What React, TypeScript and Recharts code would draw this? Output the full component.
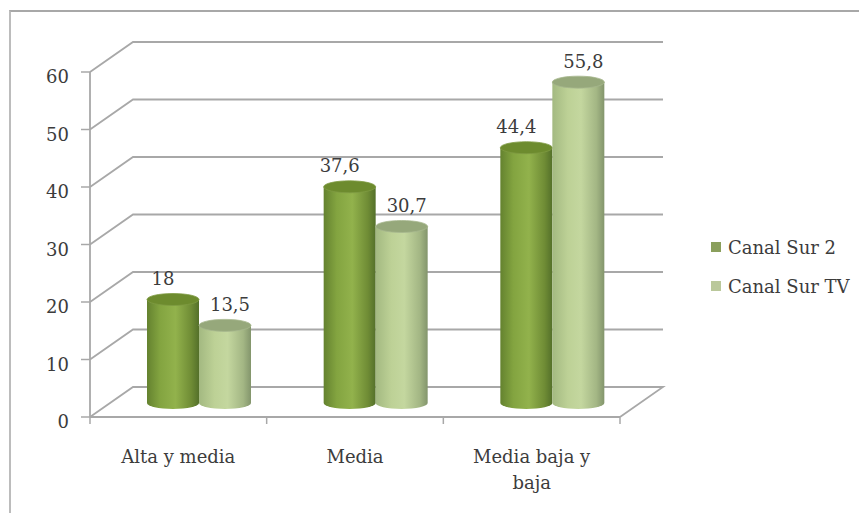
import React from "react";
import { Bar, BarChart, CartesianGrid, LabelList, Legend, Text, XAxis, YAxis } from "recharts";

const categories = ["Alta y media", "Media", "Media baja y baja"];
const canalSur2 = [18, 37.6, 44.4];
const canalSurTV = [13.5, 30.7, 55.8];
const yTicks = [0, 10, 20, 30, 40, 50, 60];

const rows = categories.map((name, i) => ({
  name,
  canalSur2: canalSur2[i],
  canalSurTV: canalSurTV[i],
}));

const FONT = '"DejaVu Serif", serif';
const FONT_SIZE = 18;
const TEXT = "#3c3c3c";
const GRID = "#a8a8a8";
// Depth of the receding wall and of the cylinders standing on the floor.
const WALL_DX = 43;
const WALL_DY = 30;
const BAR_DX = 21;
const BAR_DY = 14;
const CAP_RY = 6;
const BAND = 176.67;
const AXIS_Y = 417;

function WallLine(props: any) {
  const { x1, y1, x2 } = props;
  const isFloor = Math.abs(y1 - AXIS_Y) < 1;
  const d = `M${x1} ${y1}L${x1 + WALL_DX} ${y1 - WALL_DY}L${x2 + WALL_DX} ${y1 - WALL_DY}` +
    (isFloor ? `L${x2} ${y1}` : "");
  return <path key={y1} d={d} fill="none" stroke={GRID} strokeWidth={1.8} />;
}

function cylinder(gradient: string, capFill: string, capEdge: string) {
  return (props: any) => {
    const { x, y, width, height } = props;
    const left = x + BAR_DX;
    const right = left + width;
    const top = y - BAR_DY;
    const bottom = top + height;
    const rx = width / 2;
    const d = `M${left} ${top}L${left} ${bottom}A${rx} ${CAP_RY} 0 0 0 ${right} ${bottom}L${right} ${top}Z`;
    return (
      <g>
        <path d={d} fill={`url(#${gradient})`} />
        <ellipse cx={left + rx} cy={top} rx={rx} ry={CAP_RY} fill={capFill} stroke={capEdge} strokeWidth={0.8} />
      </g>
    );
  };
}

function valueLabel(shift: number) {
  return (props: any) => {
    const { x, y, width, value } = props;
    return (
      <text
        x={x + width / 2 + BAR_DX + shift}
        y={y - BAR_DY - 21}
        textAnchor="middle"
        dominantBaseline="central"
        fontFamily={FONT}
        fontSize={FONT_SIZE}
        fill={TEXT}
      >
        {String(value).replace(".", ",")}
      </text>
    );
  };
}

function CategoryTick(props: any) {
  const { x, index, payload } = props;
  const lineProps = { y1: AXIS_Y, y2: AXIS_Y + 7, stroke: GRID, strokeWidth: 1.5 };
  return (
    <g>
      <line x1={x - BAND / 2} x2={x - BAND / 2} {...lineProps} />
      {index === categories.length - 1 && <line x1={x + BAND / 2} x2={x + BAND / 2} {...lineProps} />}
      <Text
        x={x}
        y={AXIS_Y + 33}
        width={140}
        textAnchor="middle"
        verticalAnchor="start"
        lineHeight={26}
        style={{ fontFamily: FONT, fontSize: FONT_SIZE }}
        fill={TEXT}
      >
        {payload.value}
      </Text>
    </g>
  );
}

function LegendList({ payload }: any) {
  return (
    <div style={{ display: "flex", flexDirection: "column", gap: 13 }}>
      {payload.map((item: any) => (
        <div key={item.value} style={{ display: "flex", alignItems: "center", height: 26, fontFamily: FONT, fontSize: FONT_SIZE, color: TEXT, whiteSpace: "nowrap" }}>
          <span style={{ width: 10, height: 10, background: item.color, marginRight: 7, flex: "none" }} />
          {item.value}
        </div>
      ))}
    </div>
  );
}

export default function App() {
  return (
    <div style={{ position: "absolute", left: 0, top: 0, width: 859, height: 513, background: "#fff", overflow: "hidden" }}>
      <div style={{ position: "absolute", left: 9, top: 10, width: 860, height: 520, borderLeft: "2.5px solid #bcbcbc", borderTop: "2px solid #a8a8a8" }} />
      <BarChart
        width={859}
        height={513}
        data={rows}
        margin={{ top: 72, right: 239, bottom: 0, left: 0 }}
        barSize={52}
        barGap={0}
        style={{ position: "absolute", left: 0, top: 0 }}
      >
        <defs>
          <linearGradient id="cs2Body" x1="0" x2="1" y1="0" y2="0">
            <stop offset="0" stopColor="#64822f" />
            <stop offset="0.25" stopColor="#83a440" />
            <stop offset="0.55" stopColor="#92b24c" />
            <stop offset="0.85" stopColor="#6f8c35" />
            <stop offset="1" stopColor="#54702a" />
          </linearGradient>
          <linearGradient id="cstvBody" x1="0" x2="1" y1="0" y2="0">
            <stop offset="0" stopColor="#a3b981" />
            <stop offset="0.3" stopColor="#bdd196" />
            <stop offset="0.55" stopColor="#c4d79f" />
            <stop offset="0.85" stopColor="#a3b684" />
            <stop offset="1" stopColor="#83956c" />
          </linearGradient>
        </defs>
        <CartesianGrid vertical={false} horizontal={WallLine} />
        <XAxis
          dataKey="name"
          height={96}
          axisLine={{ stroke: GRID, strokeWidth: 1.8 }}
          tickLine={false}
          tick={CategoryTick}
          interval={0}
        />
        <YAxis
          width={90}
          domain={[0, 60]}
          ticks={yTicks}
          tickSize={9}
          tickMargin={12}
          axisLine={{ stroke: GRID, strokeWidth: 1.8 }}
          tickLine={{ stroke: GRID, strokeWidth: 1.5 }}
          tick={{ fontFamily: FONT, fontSize: FONT_SIZE, fill: TEXT, dy: 5 }}
        />
        <Legend
          layout="vertical"
          align="center"
          verticalAlign="middle"
          content={LegendList}
          wrapperStyle={{ left: 711, top: 234, width: 148 }}
        />
        <Bar dataKey="canalSur2" name="Canal Sur 2" fill="#8a9f5c" isAnimationActive={false} shape={cylinder("cs2Body", "#6d8b2e", "#7f9a42")}>
          <LabelList dataKey="canalSur2" content={valueLabel(-10)} />
        </Bar>
        <Bar dataKey="canalSurTV" name="Canal Sur TV" fill="#bac89b" isAnimationActive={false} shape={cylinder("cstvBody", "#96a87b", "#a7b88e")}>
          <LabelList dataKey="canalSurTV" content={valueLabel(5)} />
        </Bar>
      </BarChart>
    </div>
  );
}
